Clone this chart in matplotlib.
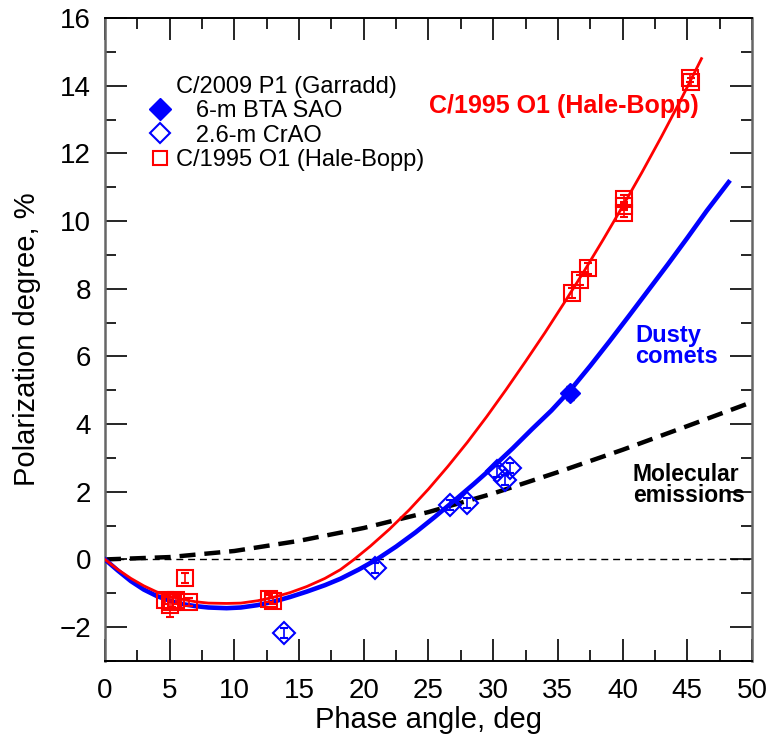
import numpy as np
import matplotlib
matplotlib.use("Agg")
import matplotlib.pyplot as plt
from matplotlib.lines import Line2D

plt.rcParams['font.family'] = ['Liberation Sans', 'DejaVu Sans']

# Garradd, 6-m BTA SAO
bta_phase = [35.9]
bta_pol = [4.92]
bta_err = [0.2]

# Garradd, 2.6-m CrAO
crao_phase = [13.8, 20.9, 26.7, 28.0, 30.3, 30.9, 31.3]
crao_pol = [-2.17, -0.26, 1.62, 1.67, 2.6, 2.35, 2.70]
crao_err = [0.15, 0.15, 0.15, 0.15, 0.15, 0.15, 0.15]

# Hale-Bopp
hb_phase = [4.65, 5.05, 5.2, 5.5, 6.2, 6.46, 12.7, 13.0, 36.1, 36.7, 37.3, 40.1, 40.1, 40.1, 45.2, 45.3]
hb_pol = [-1.19, -1.34, -1.25, -1.2, -0.55, -1.27, -1.16, -1.22, 7.88, 8.25, 8.6, 10.66, 10.44, 10.25, 14.22, 14.1]
hb_err = [0.12, 0.35, 0.15, 0.12, 0.15, 0.12, 0.1, 0.1, 0.15, 0.15, 0.15, 0.12, 0.12, 0.12, 0.12, 0.12]

# curves
hb_curve_x = [0, 1, 2, 3, 4, 5, 6, 7, 8, 9.4, 10.5, 11.8, 13, 14.3, 15.6, 17, 18.2, 19.25,
              20.5, 22, 23.5, 25, 26.5, 28, 29.5, 31, 32.5, 34, 35.5, 37, 38.5, 40, 41.5,
              43, 44.5, 46.1]
hb_curve_y = [0, -0.3, -0.56, -0.78, -0.96, -1.09, -1.18, -1.25, -1.29, -1.3, -1.29, -1.22, -1.12,
              -0.98, -0.8, -0.56, -0.3, 0, 0.39, 0.9, 1.46, 2.08, 2.75, 3.46, 4.22, 5.02, 5.85,
              6.7, 7.59, 8.5, 9.45, 10.43, 11.44, 12.49, 13.58, 14.8]

dust_curve_x = [0, 1, 2, 3, 4, 5, 6, 7, 8, 9.4, 10.5, 11.8, 13, 14.3, 15.6, 17, 18.2, 19.6,
                21, 22.5, 24, 25.5, 27, 28.5, 30, 31.5, 33, 34.5, 36, 37.5, 39, 40.5, 42,
                43.5, 45, 46.5, 48.2]
dust_curve_y = [0, -0.33, -0.64, -0.89, -1.08, -1.22, -1.32, -1.38, -1.42, -1.44, -1.42, -1.35,
                -1.25, -1.11, -0.95, -0.76, -0.57, -0.3, 0, 0.38, 0.8, 1.26, 1.74, 2.23, 2.74,
                3.28, 3.85, 4.4, 5.02, 5.72, 6.45, 7.2, 7.96, 8.72, 9.5, 10.3, 11.15]

mol_curve_x = [0, 5, 10, 15, 20, 25, 30, 35, 40, 45, 50]
mol_curve_y = [0, 0.07, 0.25, 0.55, 0.93, 1.4, 1.95, 2.58, 3.24, 3.94, 4.65]

red = '#ff0000'
blue = '#0000ff'

fig = plt.figure(figsize=(7.68, 7.45), dpi=100)
ax = fig.add_axes([0.1367, 0.1128, 0.8424, 0.863])

# reference lines and fits
ax.axhline(0, color='black', lw=1, ls=(0, (5, 3.5)), zorder=1)
ax.plot(mol_curve_x, mol_curve_y, color='black', lw=3.2, ls=(0, (3.6, 2.0)), zorder=2)
ax.plot(dust_curve_x, dust_curve_y, color=blue, lw=3.3, zorder=3)
ax.plot(hb_curve_x, hb_curve_y, color=red, lw=2.0, zorder=4)

# data points
ax.errorbar(hb_phase, hb_pol, yerr=hb_err, fmt='s', ms=12, mfc='none', mec=red, mew=1.5,
            ecolor=red, elinewidth=1.2, capsize=3, zorder=6)
ax.errorbar(crao_phase, crao_pol, yerr=crao_err, fmt='D', ms=11, mfc='none', mec=blue, mew=1.5,
            ecolor=blue, elinewidth=1.2, capsize=3, zorder=6)
ax.errorbar(bta_phase, bta_pol, yerr=bta_err, fmt='D', ms=10.5, mfc=blue, mec=blue,
            ecolor='black', elinewidth=1.2, capsize=3, zorder=6)

ax.set_xlim(0, 50)
ax.set_ylim(-3, 16)
ax.set_xticks(np.arange(0, 51, 5))
ax.set_xticks(np.arange(2.5, 50, 5), minor=True)
ax.set_yticks(np.arange(-2, 17, 2))
ax.set_yticks(np.arange(-3, 16, 2), minor=True)
ax.tick_params(which='both', direction='in', top=True, right=True, width=1.2, labelsize=20)
ax.tick_params(which='major', length=16)
ax.tick_params(which='minor', length=8)
ax.tick_params(axis='y', pad=10)
ax.tick_params(axis='x', pad=12)
for side in ['left', 'right']:
    ax.spines[side].set_color('#666666')
    ax.spines[side].set_linewidth(1.8)
for side in ['top', 'bottom']:
    ax.spines[side].set_linewidth(1.4)

ax.set_xlabel('Phase angle, deg', fontsize=21, labelpad=2)
ax.set_ylabel('Polarization degree, %', fontsize=21, labelpad=13)

ax.text(35.5, 13.4, 'C/1995 O1 (Hale-Bopp)', color=red, fontsize=18, fontweight='bold',
        ha='center', va='center')
ax.text(41.0, 6.3, 'Dusty\ncomets', color=blue, fontsize=17, fontweight='bold',
        ha='left', va='center', linespacing=0.9)
ax.text(40.8, 2.2, 'Molecular\nemissions', color='black', fontsize=16.5, fontweight='bold',
        ha='left', va='center', linespacing=0.9)

# legend
handles = [
    Line2D([], [], ls='none'),
    Line2D([], [], ls='none', marker='D', ms=11, mfc=blue, mec=blue),
    Line2D([], [], ls='none', marker='D', ms=10, mfc='none', mec=blue, mew=1.5),
    Line2D([], [], ls='none', marker='s', ms=10, mfc='none', mec=red, mew=1.5),
]
labels = ['C/2009 P1 (Garradd)', '   6-m BTA SAO', '   2.6-m CrAO', 'C/1995 O1 (Hale-Bopp)']
ax.legend(handles, labels, loc='upper left', bbox_to_anchor=(0.069, 0.91), frameon=False,
          fontsize=17, handlelength=0.9, handletextpad=0.2, labelspacing=0.1,
          borderpad=0, borderaxespad=0)

fig.savefig('out.png', dpi=100)
